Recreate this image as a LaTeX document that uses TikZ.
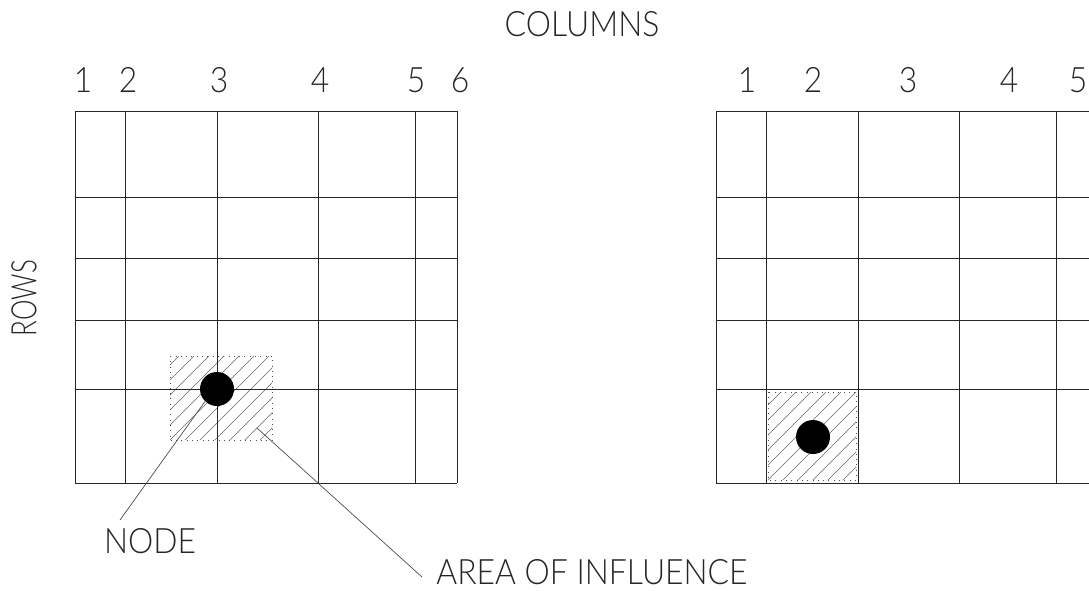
\documentclass[tikz,border=0pt]{standalone}
\usepackage{fontspec}
\newfontfamily\cad{Lato}[UprightFont=* Light, FakeStretch=0.91]
\newfontfamily\cadnarrow{Lato}[UprightFont=* Light, FakeStretch=0.74]
\begin{document}
\begin{tikzpicture}[x=1pt,y=-1pt,
  gridline/.style={line width=1pt, black!85},
  hatchline/.style={line width=0.6pt, black!60},
  dotborder/.style={line width=0.8pt, black!70, dash pattern=on 0.8pt off 4.5pt},
  leader/.style={line width=0.7pt, black!70},
  dotnode/.style={circle, fill=black, draw=none, inner sep=0pt, minimum size=34pt},
  lbl/.style={font=\cad\fontsize{35}{35}\selectfont, inner sep=0pt, text=black!85},
  lblnarrow/.style={font=\cadnarrow\fontsize{35}{35}\selectfont, inner sep=0pt, text=black!85},
]
\useasboundingbox (0,0) rectangle (1089,590);

% ---------- left hatched area of influence
\begin{scope}
  \clip (170,356) rectangle (272,440);
  \foreach \k in {-7,...,8} \draw[hatchline] ({170+\k*15},440) -- ++(150,-150);
\end{scope}
\draw[dotborder] (170,356) rectangle (272,440);

% ---------- right hatched area of influence
\begin{scope}
  \clip (768,392) rectangle (856,480);
  \foreach \k in {-7,...,7} \draw[hatchline] ({768+\k*15},480) -- ++(150,-150);
\end{scope}
\draw[dotborder] (768,392) rectangle (856,480);

% ---------- left grid
\foreach \x in {75,125,217,318,415,457} \draw[gridline] (\x,111) -- (\x,483);
\foreach \y in {111,197,258,320,389,483} \draw[gridline] (75,\y) -- (457,\y);

% ---------- right grid (cut by the picture edge)
\foreach \x in {716,766,858,959,1056} \draw[gridline] (\x,111) -- (\x,483);
\foreach \y in {111,197,258,320,389,483} \draw[gridline] (716,\y) -- (1089,\y);

% ---------- nodes (dots)
\node[dotnode] (dotL) at (217,389) {};
\node[dotnode] (dotR) at (813,437) {};

% ---------- titles
\node[lbl] (colT) at (582,24) {COLUMNS};
\node[lblnarrow, rotate=90] (rowT) at (24,298) {ROWS};

% ---------- column numbers, left
\node[lbl] (l1) at (83,80) {1};
\node[lbl] (l2) at (128,80) {2};
\node[lbl] (l3) at (219,80) {3};
\node[lbl] (l4) at (320,80) {4};
\node[lbl] (l5) at (416,80) {5};
\node[lbl] (l6) at (460,80) {6};

% ---------- column numbers, right
\node[lbl] (r1) at (747,80) {1};
\node[lbl] (r2) at (813,80) {2};
\node[lbl] (r3) at (908,80) {3};
\node[lbl] (r4) at (1009,80) {4};
\node[lbl] (r5) at (1078,80) {5};

% ---------- callouts
\node[lbl] (nodeT) at (150,541) {NODE};
\node[lbl] (areaT) at (592,572) {AREA OF INFLUENCE};
\coordinate (nodeEnd) at (120,520);
\coordinate (areaStart) at (257,428);
\coordinate (areaEnd) at (422,577);
\draw[leader] (dotL.226) -- (nodeEnd);
\draw[leader] (areaStart) -- (areaEnd);
\end{tikzpicture}
\end{document}
